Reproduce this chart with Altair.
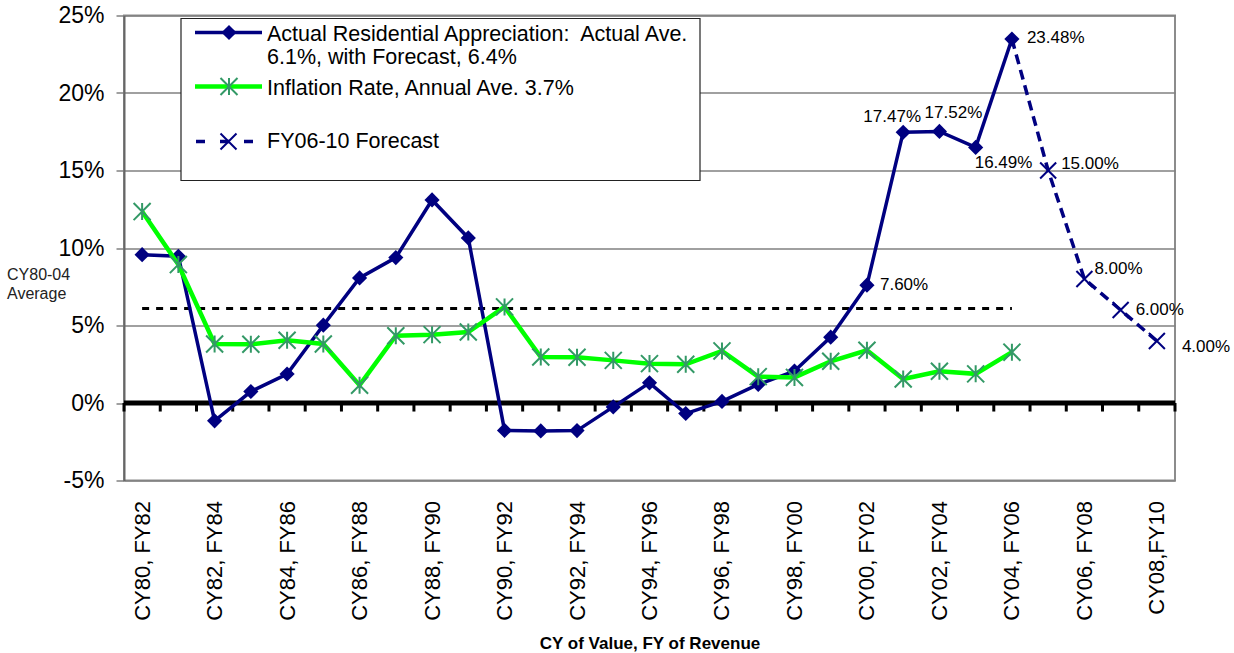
import json

import altair as alt
import pandas as pd

FONT = "Liberation Sans"
NAVY = "#000080"
LIME = "#00FF00"
STAR_GREEN = "#339966"

# Category axis: calendar year of value, fiscal year of revenue
categories = [
    "CY80, FY82", "CY81, FY83", "CY82, FY84", "CY83, FY85", "CY84, FY86",
    "CY85, FY87", "CY86, FY88", "CY87, FY89", "CY88, FY90", "CY89, FY91",
    "CY90, FY92", "CY91, FY93", "CY92, FY94", "CY93, FY95", "CY94, FY96",
    "CY95, FY97", "CY96, FY98", "CY97, FY99", "CY98, FY00", "CY99, FY01",
    "CY00, FY02", "CY01, FY03", "CY02, FY04", "CY03, FY05", "CY04, FY06",
    "CY05, FY07", "CY06, FY08", "CY07, FY09", "CY08,FY10",
]

# Actual residential appreciation, CY80-CY04 (%)
appreciation = [
    9.57, 9.47, -1.15, 0.74, 1.87, 5.02, 8.07, 9.38, 13.10, 10.65,
    -1.77, -1.80, -1.78, -0.25, 1.30, -0.68, 0.10, 1.20, 2.06, 4.25,
    7.60, 17.47, 17.52, 16.49, 23.48,
]

# Inflation rate, CY80-CY04 (%)
inflation = [
    12.35, 8.93, 3.81, 3.79, 4.05, 3.81, 1.15, 4.34, 4.41, 4.58,
    6.20, 2.97, 2.95, 2.75, 2.54, 2.50, 3.36, 1.70, 1.65, 2.69,
    3.40, 1.55, 2.05, 1.88, 3.28,
]

# FY06-10 forecast, starting from the last actual year (%)
forecast_categories = ["CY04, FY06", "CY05, FY07", "CY06, FY08", "CY07, FY09", "CY08,FY10"]
forecast = [23.48, 15.00, 8.00, 6.00, 4.00]

# CY80-04 average appreciation (%)
average_actual = 6.1

y_ticks = [-5, 0, 5, 10, 15, 20, 25]

# ---------------------------------------------------------------- tables
actual_df = pd.DataFrame({"idx": range(len(appreciation)), "value": appreciation})
inflation_df = pd.DataFrame({"idx": range(len(inflation)), "value": inflation})
forecast_df = pd.DataFrame(
    {"idx": [categories.index(c) for c in forecast_categories], "value": forecast}
)
average_df = pd.DataFrame(
    {"idx": [0], "end": [len(appreciation) - 1], "value": [average_actual]}
)
boundary_df = pd.DataFrame({"idx": [i - 0.5 for i in range(len(categories) + 1)]})
one = pd.DataFrame({"k": [0]})

x_scale = alt.Scale(domain=[-0.5, len(categories) - 0.5], nice=False, zero=False)
y_scale = alt.Scale(domain=[y_ticks[0], y_ticks[-1]], nice=False, zero=False)

x_axis = alt.Axis(
    values=list(range(0, len(categories), 2)),
    labelExpr=f"{json.dumps(categories)}[datum.value]",
    labelAngle=270,
    labelFontSize=22,
    labelFont=FONT,
    labelColor="black",
    labelPadding=20,
    labelFlush=False,
    labelOverlap=False,
    ticks=False,
    tickSize=0,
    domain=False,
    grid=False,
    title="CY of Value, FY of Revenue",
    titleFont=FONT,
    titleFontSize=17,
    titleFontWeight="bold",
    titleColor="black",
    titleY=168,
    titleBaseline="alphabetic",
)
y_axis = alt.Axis(
    values=y_ticks,
    labelExpr="datum.value + '%'",
    labelFontSize=23,
    labelFont=FONT,
    labelColor="black",
    labelPadding=12,
    tickSize=8,
    tickColor="#808080",
    tickWidth=1.5,
    domainColor="#666666",
    domainWidth=2,
    grid=True,
    gridColor="#808080",
    gridWidth=1.5,
    title=None,
)

# Every layer shares the same position encodings, so the axes merge cleanly
X = alt.X("idx:Q", scale=x_scale, axis=x_axis, title="CY of Value, FY of Revenue")
Y = alt.Y("value:Q", scale=y_scale, axis=y_axis, title=None)

# Dashed CY80-04 average line
average_line = alt.Chart(average_df).mark_rule(
    color="black", strokeWidth=3, strokeDash=[7, 7]
).encode(x=X, x2="end:Q", y=Y)

# Heavy zero line with category tick marks
zero_line = alt.Chart(one).mark_rule(color="black", strokeWidth=5).encode(
    y=alt.Y(datum=0, scale=y_scale, axis=y_axis, title=None)
)
zero_ticks = alt.Chart(boundary_df).mark_rule(color="black", strokeWidth=3).encode(
    x=X,
    y=alt.Y(datum=0, scale=y_scale, axis=y_axis, title=None),
    y2=alt.Y2(datum=-0.55),
)

STAR = "M-1,-1L1,1M-1,1L1,-1M0,-1L0,1"
CROSS = "M-1,-1L1,1M-1,1L1,-1"

forecast_line = alt.Chart(forecast_df).mark_line(
    color=NAVY, strokeWidth=3.5, strokeDash=[10, 6]
).encode(x=X, y=Y)
# The first forecast point coincides with the last actual one (its diamond covers it)
forecast_pts = alt.Chart(forecast_df.iloc[1:]).mark_point(
    shape=CROSS, size=256, filled=False, color=NAVY, strokeWidth=2, opacity=1
).encode(x=X, y=Y)

actual_line = alt.Chart(actual_df).mark_line(color=NAVY, strokeWidth=3.5).encode(x=X, y=Y)
actual_pts = alt.Chart(actual_df).mark_point(
    shape="diamond", size=230, filled=True, color=NAVY, opacity=1
).encode(x=X, y=Y)

inflation_line = alt.Chart(inflation_df).mark_line(color=LIME, strokeWidth=4.5).encode(x=X, y=Y)
inflation_pts = alt.Chart(inflation_df).mark_point(
    shape=STAR, size=290, filled=False, color=STAR_GREEN, strokeWidth=2, opacity=1
).encode(x=X, y=Y)


def value_label(cat, value, align, dx, dy):
    df = pd.DataFrame(
        {"idx": [categories.index(cat)], "value": [value], "label": [f"{value:.2f}%"]}
    )
    return alt.Chart(df).mark_text(
        align=align, baseline="middle", dx=dx, dy=dy,
        font=FONT, fontSize=17, color="black",
    ).encode(x=X, y=Y, text="label:N")


def actual_at(cat):
    return appreciation[categories.index(cat)]


def forecast_at(cat):
    return forecast[forecast_categories.index(cat)]


labels = [
    value_label("CY00, FY02", actual_at("CY00, FY02"), "left", 13, 0),
    value_label("CY01, FY03", actual_at("CY01, FY03"), "center", -11, -15),
    value_label("CY02, FY04", actual_at("CY02, FY04"), "center", 14, -18),
    value_label("CY03, FY05", actual_at("CY03, FY05"), "left", -1, 16),
    value_label("CY04, FY06", actual_at("CY04, FY06"), "left", 15, -1),
    value_label("CY05, FY07", forecast_at("CY05, FY07"), "left", 13, -7),
    value_label("CY06, FY08", forecast_at("CY06, FY08"), "left", 10, -10),
    value_label("CY07, FY09", forecast_at("CY07, FY09"), "left", 15, 0),
    value_label("CY08,FY10", forecast_at("CY08,FY10"), "left", 25, 6),
]

# Side note for the average line
average_note = alt.Chart(one).mark_text(
    align="left", baseline="alphabetic", lineBreak="\n", lineHeight=19,
    font=FONT, fontSize=16, color="#222222",
).encode(x=alt.value(-117), y=alt.value(264.5), text=alt.value("CY80-04\nAverage"))

# Legend box
legend_box = alt.Chart(one).mark_rect(
    fill="white", stroke="#222222", strokeWidth=1.2
).encode(x=alt.value(57), x2=alt.value(576), y=alt.value(3), y2=alt.value(165))

leg_actual_line = alt.Chart(one).mark_rule(color=NAVY, strokeWidth=3.5).encode(
    x=alt.value(71), x2=alt.value(138), y=alt.value(17)
)
leg_actual_pt = alt.Chart(one).mark_point(
    shape="diamond", size=230, filled=True, color=NAVY, opacity=1
).encode(x=alt.value(105), y=alt.value(17))
leg_infl_line = alt.Chart(one).mark_rule(color=LIME, strokeWidth=4.5).encode(
    x=alt.value(71), x2=alt.value(138), y=alt.value(71)
)
leg_infl_pt = alt.Chart(one).mark_point(
    shape=STAR, size=290, filled=False, color=STAR_GREEN, strokeWidth=2, opacity=1
).encode(x=alt.value(105), y=alt.value(71))
leg_fc_line = alt.Chart(one).mark_rule(
    color=NAVY, strokeWidth=3.5, strokeDash=[9, 15]
).encode(x=alt.value(72), x2=alt.value(129), y=alt.value(126))
leg_fc_pt = alt.Chart(one).mark_point(
    shape=CROSS, size=256, filled=False, color=NAVY, strokeWidth=2, opacity=1
).encode(x=alt.value(104.5), y=alt.value(126))


def legend_text(text, y):
    return alt.Chart(one).mark_text(
        align="left", baseline="alphabetic", lineBreak="\n", lineHeight=23.3,
        font=FONT, fontSize=21.5, color="black",
    ).encode(x=alt.value(143), y=alt.value(y), text=alt.value(text))


leg_texts = [
    legend_text("Actual Residential Appreciation:\u00a0 Actual Ave.\n6.1%, with Forecast, 6.4%", 25.5),
    legend_text("Inflation Rate, Annual Ave. 3.7%", 79.5),
    legend_text("FY06-10 Forecast", 132.8),
]

chart = alt.layer(
    average_line,
    zero_line,
    zero_ticks,
    forecast_line,
    forecast_pts,
    actual_line,
    actual_pts,
    inflation_line,
    inflation_pts,
    *labels,
    average_note,
    legend_box,
    leg_actual_line,
    leg_actual_pt,
    leg_infl_line,
    leg_infl_pt,
    leg_fc_line,
    leg_fc_pt,
    *leg_texts,
).properties(
    width=1051,
    height=465,
    autosize=alt.AutoSizeParams(type="none"),
    padding={"left": 124, "top": 15.5, "right": 59, "bottom": 172.5},
    background="white",
).configure_view(
    stroke="#8c8c8c", strokeWidth=2
)

chart.save("out.html", embed_options={"renderer": "svg", "actions": False})
